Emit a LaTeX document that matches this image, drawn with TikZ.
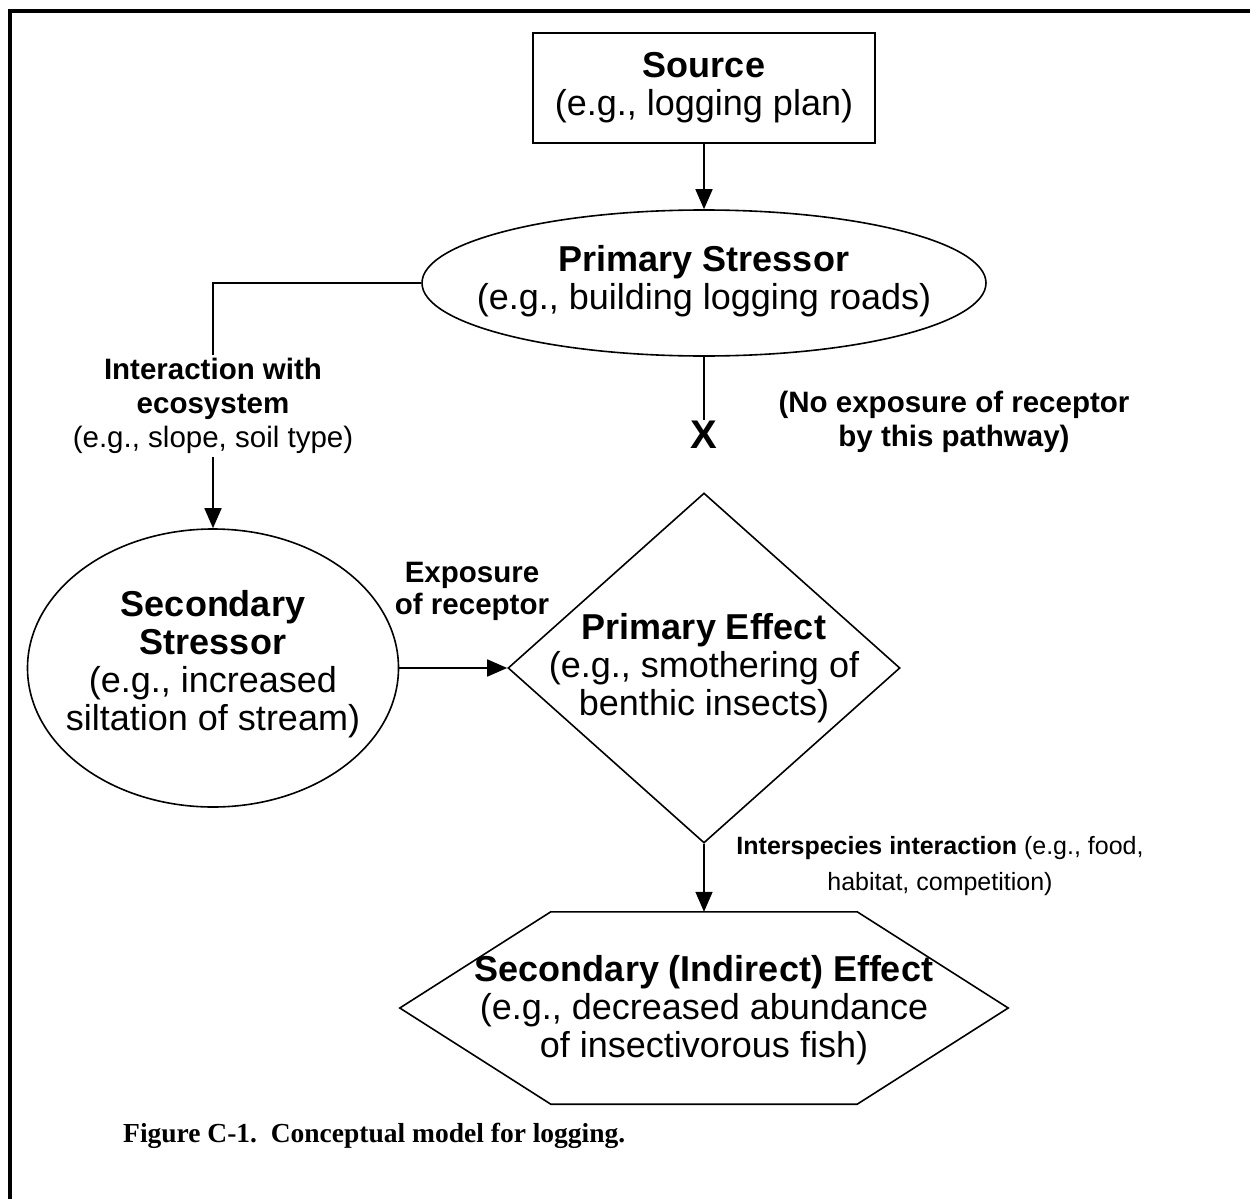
\documentclass[tikz,border=0pt]{standalone}
\usepackage{fontspec}
\setmainfont{Liberation Sans}
\newfontfamily\capfont{Liberation Serif}
\usepackage{tikz}
\usetikzlibrary{shapes.geometric,arrows.meta,calc}
\tikzset{>={Triangle[length=20pt,width=17pt]}}
\tikzset{
  shp/.style={draw,line width=1.6pt,inner sep=0pt},
  txt/.style={align=center,font=\fontsize{36}{38}\selectfont},
  lbl/.style={align=center,font=\fontsize{29.5}{34}\selectfont},
  con/.style={line width=1.6pt}
}

\begin{document}
\begin{tikzpicture}[x=1pt,y=-1pt]
    \useasboundingbox (0,0) rectangle (1250,1199);
    \draw[line width=4pt] (10,1220)--(10,11)--(1270,11);
    \node[shp,rectangle,line width=2pt,minimum width=342pt,minimum height=110pt,txt] at (704,88) (src) {\textbf{Source}\\(e.g., logging plan)};
    \node[shp,ellipse,minimum width=564pt,minimum height=146pt] at (704,283) (pstr) {};
    \node[txt] at (704,281) (pstrT) {\textbf{Primary Stressor}\\(e.g., building logging roads)};
    \node[shp,ellipse,minimum width=371pt,minimum height=278pt] at (213,668) (sstr) {};
    \node[txt] at (213,664) (sstrT) {\textbf{Secondary}\\\textbf{Stressor}\\(e.g., increased\\siltation of stream)};
    \node[shp,diamond,minimum width=392pt,minimum height=350pt] at (704,668) (peff) {};
    \node[txt] at (704,668) (peffT) {\textbf{Primary Effect}\\(e.g., smothering of\\benthic insects)};
    \node[minimum width=306pt,minimum height=192pt] at (704,1008) (seff) {};
    \draw[con] (seff.north west)--(seff.north east)--($(seff.east)+(151,0)$)--(seff.south east)--(seff.south west)--($(seff.west)+(-151,0)$)--cycle;
    \node[txt] at (704,1010) (seffT) {\textbf{Secondary (Indirect) Effect}\\(e.g., decreased abundance\\of insectivorous fish)};
    \node[inner sep=1pt,font=\fontsize{40}{40}\selectfont\bfseries] at (704,435) (x) {X};
    \node[lbl,font=\fontsize{29.5}{34}\selectfont\bfseries] at (954,422) (nox) {(No exposure of receptor\\by this pathway)};
    \node[lbl,font=\fontsize{29.5}{32}\selectfont\bfseries] at (472,591) (exp) {Exposure\\of receptor};
    \node[lbl,font=\fontsize{25}{36}\selectfont] at (940,866) (isi) {\textbf{Interspecies interaction} (e.g., food,\\habitat, competition)};
    \node[anchor=base west,inner sep=0pt,font=\capfont\bfseries\fontsize{27.5}{30}\selectfont] at (123,1142) (cap) {Figure C-1.\ \ Conceptual model for logging.};
    \draw[con,->] (src)--(pstr);
    \draw[con,->] (pstr.west)-|(sstr.north) node[lbl,fill=white,pos=0.75] (iwe) {\textbf{Interaction with}\\\textbf{ecosystem}\\(e.g., slope, soil type)};
    \draw[con] (pstr.south)--(x.north);
    \draw[con,->] (sstr.east)--(peff.west);
    \draw[con,->] (peff.south)--(seff.north);
\end{tikzpicture}
\end{document}
